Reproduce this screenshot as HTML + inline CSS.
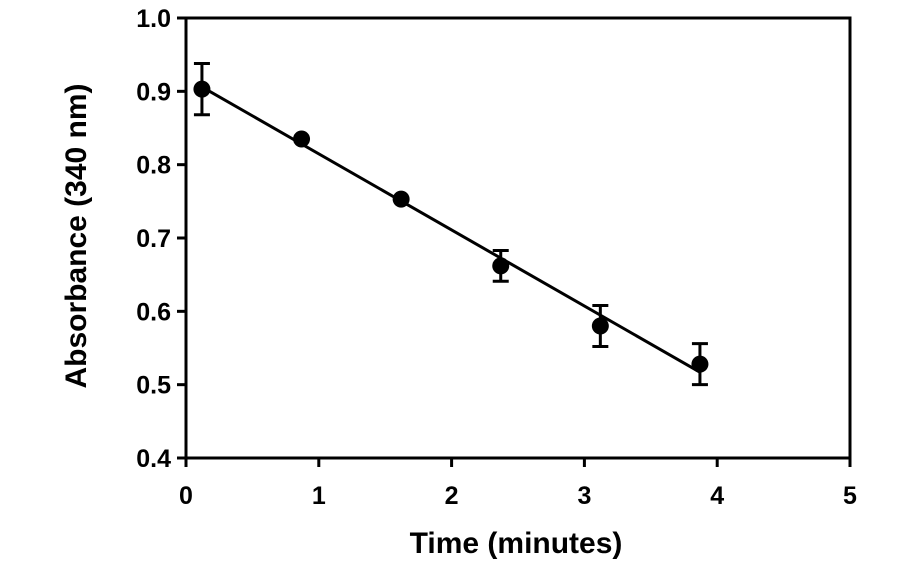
<!DOCTYPE html>
<html><head><meta charset="utf-8"><style>
body{margin:0;background:#fff}
svg text{font-family:"Liberation Sans",Arial,sans-serif;font-weight:bold;fill:#000}
</style></head><body>
<svg id="chart" width="912" height="562">
<rect x="186" y="18" width="664" height="440" fill="none" stroke="#000" stroke-width="3"/>
<g id="axes"></g><g id="marks"></g>
<text x="516" y="553" font-size="30" text-anchor="middle">Time (minutes)</text>
<text transform="translate(86,236) rotate(-90)" font-size="30" text-anchor="middle">Absorbance (340 nm)</text>
</svg>
<script>
const xTicks=[0,1,2,3,4,5];
const yTicks=[0.4,0.5,0.6,0.7,0.8,0.9,1.0];
const times=[0.12,0.87,1.62,2.37,3.12,3.87];
const absorb=[0.903,0.835,0.753,0.662,0.580,0.528];
const errs=[0.035,0.004,0.004,0.021,0.028,0.028];
const fitX=[0.12,3.87];
const fitY=[0.906,0.517];
const X=v=>186+v*132.8, Y=v=>458-(v-0.4)/0.6*440;
const NS="http://www.w3.org/2000/svg";
function mk(t,a,p){const e=document.createElementNS(NS,t);for(const k in a)e.setAttribute(k,a[k]);p.appendChild(e);return e;}
const ax=document.getElementById('axes'),mg=document.getElementById('marks');
xTicks.forEach(v=>{
 const l=mk('line',{x1:X(v),x2:X(v),y1:458,y2:467,stroke:'#000','stroke-width':3},ax);
 
 
 const t=mk('text',{x:X(v),y:504,'font-size':25,'text-anchor':'middle'},ax);t.textContent=v;
 
 
});
yTicks.forEach(v=>{
 const l=mk('line',{x1:177,x2:186,y1:Y(v),y2:Y(v),stroke:'#000','stroke-width':3},ax);
 
 
 const t=mk('text',{x:171,y:Y(v)+9,'font-size':25,'text-anchor':'end'},ax);t.textContent=v.toFixed(1);
 
 
});
const fl=mk('line',{x1:X(fitX[0]),y1:Y(fitY[0]),x2:X(fitX[1]),y2:Y(fitY[1]),stroke:'#000','stroke-width':3},mg);


times.forEach((t,i)=>{
 const x=X(t),y=Y(absorb[i]),yt=Y(absorb[i]+errs[i]),yb=Y(absorb[i]-errs[i]);
 const g=mk('g',{},mg);
 
 
 if(errs[i]>0.01){
  mk('line',{x1:x,x2:x,y1:yt,y2:yb,stroke:'#000','stroke-width':3},g);
  mk('line',{x1:x-8,x2:x+8,y1:yt,y2:yt,stroke:'#000','stroke-width':3},g);
  mk('line',{x1:x-8,x2:x+8,y1:yb,y2:yb,stroke:'#000','stroke-width':3},g);
 }
 mk('circle',{cx:x,cy:y,r:8.5,fill:'#000'},g);
});
</script>
</body></html>
